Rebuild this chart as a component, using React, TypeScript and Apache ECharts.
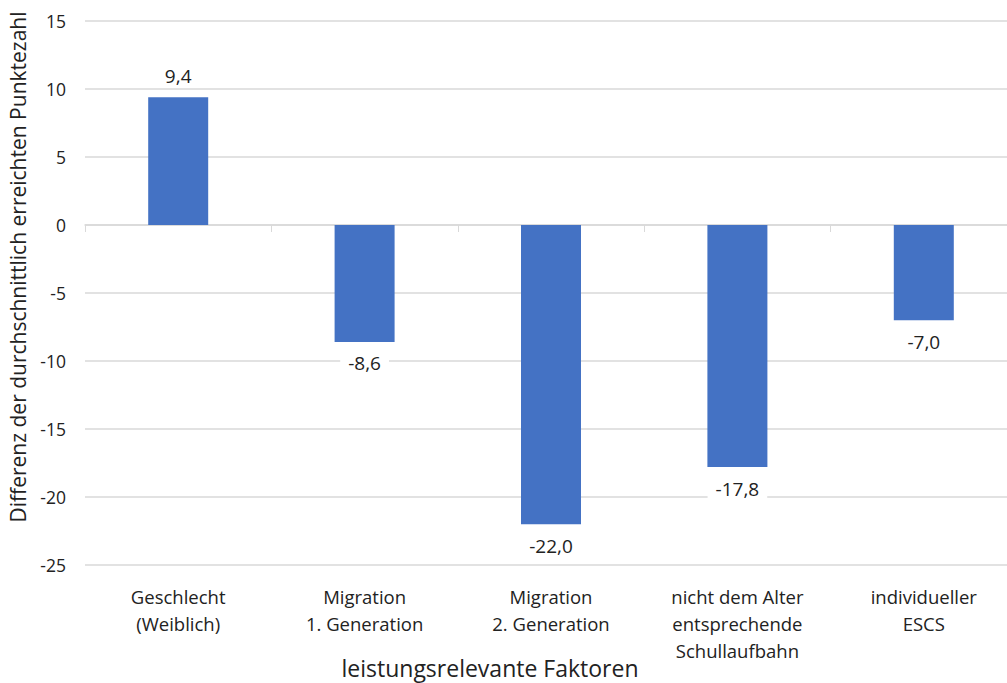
import React, { useEffect, useRef } from "react";
import * as echarts from "echarts";

const categories = [
  "Geschlecht\n(Weiblich)",
  "Migration\n1. Generation",
  "Migration\n2. Generation",
  "nicht dem Alter\nentsprechende\nSchullaufbahn",
  "individueller\nESCS",
];
const values = [9.4, -8.6, -22.0, -17.8, -7.0];
const yAxisTitle = "Differenz der durchschnittlich erreichten Punktezahl";
const xAxisTitle = "leistungsrelevante Faktoren";

const FONT = "'Open Sans', sans-serif";

export default function App() {
  const ref = useRef<HTMLDivElement>(null);
  useEffect(() => {
    const chart = echarts.init(ref.current!, null, { renderer: "svg" });
    chart.setOption({
      animation: false,
      backgroundColor: "#ffffff",
      textStyle: { fontFamily: FONT },
      grid: { left: 85, width: 932, top: 21, height: 544, containLabel: false },
      xAxis: [
        {
          type: "category",
          data: categories,
          axisLine: { onZero: true, lineStyle: { color: "#d9d9d9", width: 1.5 } },
          axisTick: { show: true, length: 7, lineStyle: { color: "#d9d9d9" } },
          axisLabel: { show: false },
        },
        {
          type: "category",
          data: categories,
          position: "bottom",
          axisLine: { show: false },
          axisTick: { show: false },
          axisLabel: {
            show: true,
            color: "#222",
            fontSize: 18.5,
            lineHeight: 27,
            fontFamily: FONT,
            margin: 18,
            verticalAlign: "top",
          },
        },
      ],
      yAxis: {
        type: "value",
        min: -25,
        max: 15,
        interval: 5,
        axisLine: { show: false },
        axisTick: { show: false },
        splitLine: { lineStyle: { color: "#d9d9d9", width: 1.5 } },
        axisLabel: { color: "#222", fontSize: 17.5, margin: 19, fontFamily: FONT },
      },
      series: [
        {
          type: "bar",
          xAxisIndex: 0,
          data: values,
          barWidth: 60,
          itemStyle: { color: "#4472C4" },
          label: {
            show: true,
            position: "outside",
            distance: 10,
            color: "#222",
            fontSize: 19,
            fontFamily: FONT,
            backgroundColor: "#ffffff",
            padding: [2, 8],
            formatter: (p: any) => p.value.toFixed(1).replace(".", ","),
          },
        },
      ],
      graphic: [
        {
          type: "text",
          x: 18,
          y: 267,
          rotation: Math.PI / 2,
          style: {
            text: yAxisTitle,
            fill: "#222",
            font: `21px ${FONT}`,
            align: "center",
            verticalAlign: "middle",
          },
        },
        {
          type: "text",
          x: 490,
          y: 668,
          style: {
            text: xAxisTitle,
            fill: "#222",
            font: `23px ${FONT}`,
            align: "center",
            verticalAlign: "middle",
          },
        },
      ],
    });
    return () => chart.dispose();
  }, []);
  return (
    <div
      style={{
        position: "fixed",
        left: 0,
        top: 0,
        width: 1007,
        height: 683,
        overflow: "hidden",
        background: "#fff",
      }}
    >
      <div ref={ref} style={{ width: 1030, height: 683 }} />
    </div>
  );
}
